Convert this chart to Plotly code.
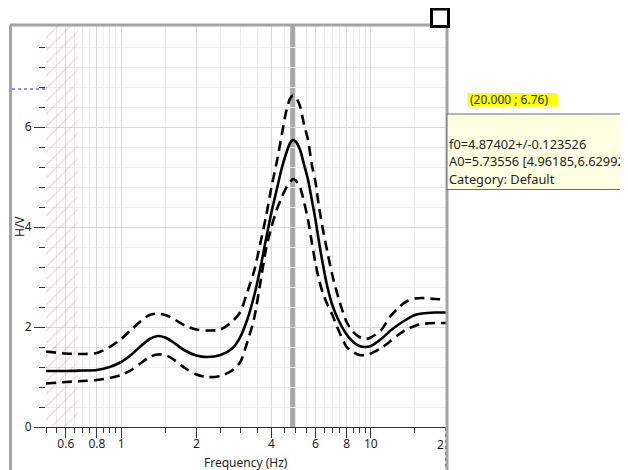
import plotly.graph_objects as go

# ---------------- data ----------------
freq = [0.5, 0.6, 0.7, 0.8, 0.9, 1.0, 1.1, 1.2, 1.3, 1.4, 1.5, 1.6, 1.8, 2.0, 2.2, 2.5, 2.8,
        3.0, 3.2, 3.4, 3.6, 3.8, 4.0, 4.2, 4.4, 4.6, 4.75, 4.87, 5.0, 5.2, 5.4, 5.6, 5.8, 6.0,
        6.2, 6.4, 6.7, 7.0, 7.4, 8.0, 8.5, 9.0, 9.5, 10, 11, 12, 13, 14, 15, 16, 18, 20]
hv_mean = [1.12, 1.12, 1.13, 1.14, 1.20, 1.30, 1.45, 1.62, 1.76, 1.82, 1.79, 1.71, 1.53, 1.43, 1.40, 1.44, 1.58,
           1.80, 2.15, 2.60, 3.15, 3.75, 4.30, 4.75, 5.18, 5.50, 5.68, 5.74, 5.71, 5.55, 5.25, 4.95, 4.55, 4.15,
           3.70, 3.30, 2.80, 2.45, 2.15, 1.85, 1.70, 1.62, 1.60, 1.62, 1.76, 1.93, 2.06, 2.16, 2.24, 2.27, 2.29, 2.29]
hv_upper = [1.51, 1.47, 1.46, 1.48, 1.60, 1.76, 1.95, 2.12, 2.24, 2.27, 2.24, 2.18, 2.03, 1.95, 1.93, 1.95, 2.12,
            2.30, 2.70, 3.10, 3.65, 4.20, 4.80, 5.30, 5.85, 6.35, 6.57, 6.63, 6.60, 6.42, 6.05, 5.75, 5.25, 4.90,
            4.40, 4.00, 3.50, 3.05, 2.60, 2.10, 1.90, 1.80, 1.76, 1.79, 1.94, 2.22, 2.40, 2.52, 2.57, 2.58, 2.56, 2.55]
hv_lower = [0.87, 0.90, 0.92, 0.94, 0.98, 1.04, 1.14, 1.28, 1.40, 1.45, 1.44, 1.37, 1.18, 1.05, 1.00, 1.02, 1.14,
            1.30, 1.70, 2.15, 2.85, 3.55, 4.00, 4.35, 4.60, 4.80, 4.90, 4.96, 4.93, 4.80, 4.50, 4.15, 3.70, 3.27,
            2.95, 2.70, 2.45, 2.25, 1.95, 1.60, 1.50, 1.44, 1.44, 1.47, 1.58, 1.72, 1.86, 1.96, 2.02, 2.06, 2.08, 2.08]

f0 = 4.87402
f0_std = 0.123526
a0 = 5.73556
a0_low = 4.96185
a0_high = 6.62992
category = "Default"
hatch_f_min = 0.5
hatch_f_max = 0.67
cursor_f = 20.000
cursor_a = 6.76

x_range = [0.5, 20]
y_range = [0, 8.04]
x_tick_vals = [0.6, 0.8, 1, 2, 4, 6, 8, 10, 20]
x_tick_text = ["0.6", "0.8", "1", "2", "4", "6", "8", "10", ""]
x_minor_vals = [0.5, 0.55, 0.6, 0.65, 0.7, 0.75, 0.8, 0.85, 0.9, 0.95, 1.0,
                1.5, 2.0, 2.5, 3.0, 3.5, 4.0, 4.5, 5.0, 5.5, 6.0, 6.5, 7.0, 7.5, 8.0, 8.5, 9.0, 9.5, 10, 15, 20]
y_tick_vals = [0, 2, 4, 6]
y_minor_vals = [0.4, 0.8, 1.2, 1.6, 2.0, 2.4, 2.8, 3.2, 3.6, 4.0, 4.4, 4.8, 5.2, 5.6, 6.0,
                6.4, 6.8, 7.2, 7.6]

# ---------------- layout helpers ----------------
# The page body has an 8 px margin, so the figure is drawn 8 px smaller and
# all page-pixel positions below are converted to paper coordinates.
BODY = 8
PAGE_W, PAGE_H = 628, 470
L_PAGE, T_PAGE, W, H = 46, 25, 400, 402
FIG_W, FIG_H = PAGE_W - BODY, PAGE_H - BODY
L, T = L_PAGE - BODY, T_PAGE - BODY


def px(x):
    return (x - L_PAGE) / W


def py(y):
    return (T_PAGE + H - y) / H


FONT = "Noto Sans"
TXT = "#1e1e1e"

fig = go.Figure()

# hatched (invalid) frequency region
fig.add_trace(go.Scatter(
    x=[hatch_f_min, hatch_f_max, hatch_f_max, hatch_f_min, hatch_f_min],
    y=[y_range[0], y_range[0], y_range[1], y_range[1], y_range[0]],
    mode="lines", fill="toself", line=dict(width=0),
    fillcolor="rgba(0,0,0,0)",
    fillpattern=dict(shape="/", fgcolor="#e296ae", bgcolor="rgba(255,255,255,0)",
                     size=9, solidity=0.13),
    hoverinfo="skip", showlegend=False))

dash = "10px,6px"
fig.add_trace(go.Scatter(x=freq, y=hv_upper, mode="lines", line=dict(color="black", width=2.6, dash=dash,
                                                                      shape="spline", smoothing=0.8),
                         showlegend=False))
fig.add_trace(go.Scatter(x=freq, y=hv_lower, mode="lines", line=dict(color="black", width=2.6, dash=dash,
                                                                      shape="spline", smoothing=0.8),
                         showlegend=False))
fig.add_trace(go.Scatter(x=freq, y=hv_mean, mode="lines", line=dict(color="black", width=2.6,
                                                                     shape="spline", smoothing=0.8),
                         showlegend=False))

shapes = []
# f0 +/- std band
shapes.append(dict(type="rect", xref="x", yref="paper", x0=f0 - f0_std, x1=f0 + f0_std, y0=0, y1=1,
                   fillcolor="#a9a9a9", line=dict(width=0), layer="between"))
# widget frame
frame = dict(color="#a3a3a3", width=3)
shapes.append(dict(type="line", xref="paper", yref="paper", x0=px(10), x1=px(447), y0=py(25), y1=py(25),
                   line=frame, layer="above"))
shapes.append(dict(type="line", xref="paper", yref="paper", x0=px(10.5), x1=px(10.5), y0=py(25), y1=py(472),
                   line=frame, layer="above"))
shapes.append(dict(type="line", xref="paper", yref="paper", x0=px(447), x1=px(447), y0=py(25), y1=py(472),
                   line=frame, layer="above"))
# cursor cross-hair (blue dotted)
shapes.append(dict(type="line", xref="paper", yref="y", x0=px(12), x1=0, y0=cursor_a, y1=cursor_a,
                   line=dict(color="#2020ff", width=1, dash="dot"), layer="above"))
shapes.append(dict(type="line", xref="x", yref="paper", x0=cursor_f, x1=cursor_f, y0=py(428), y1=py(472),
                   line=dict(color="#2020ff", width=1, dash="dot"), layer="above"))
# resize handle square
shapes.append(dict(type="rect", xref="paper", yref="paper", x0=px(431.5), x1=px(448.5), y0=py(26.5), y1=py(9),
                   fillcolor="white", line=dict(color="black", width=3), layer="above"))
# yellow cursor label background
shapes.append(dict(type="rect", xref="paper", yref="paper", x0=px(467.5), x1=px(557), y0=py(106.5), y1=py(93),
                   fillcolor="#ffff00", line=dict(width=0), layer="above"))
# tooltip box
shapes.append(dict(type="rect", xref="paper", yref="paper", x0=px(447), x1=px(627), y0=py(189.5), y1=py(114),
                   fillcolor="#ffffe1", line=dict(color="#6e6e6e", width=1), layer="above"))

annotations = []


def add_text(text, x, y, xanchor="left", size=12, yanchor="middle", textangle=0):
    annotations.append(dict(text=text, xref="paper", yref="paper", x=px(x), y=py(y), xanchor=xanchor,
                            yanchor=yanchor, showarrow=False, textangle=textangle,
                            font=dict(family=FONT, size=size, color=TXT)))


add_text(f"({cursor_f:.3f} ; {cursor_a:.2f})", 468.5, 99.5)
add_text(f"f0={f0}+/-{f0_std}", 446.5, 143.5, size=12.8)
add_text(f"A0={a0} [{a0_low},{a0_high}]", 446.5, 161, size=12.8)
add_text(f"Category: {category}", 446.5, 178.5, size=12.8)
add_text("Frequency (Hz)", 246, 462.5, xanchor="center")
add_text("H/V", 19, 227, xanchor="center", textangle=-90)
add_text("2", 446, 444, xanchor="right")

fig.update_layout(
    width=FIG_W, height=FIG_H,
    margin=dict(l=L, r=FIG_W - L - W, t=T, b=FIG_H - T - H),
    paper_bgcolor="white", plot_bgcolor="white",
    font=dict(family=FONT, size=12, color=TXT),
    shapes=shapes, annotations=annotations, showlegend=False,
)
fig.update_xaxes(
    type="log", range=[-0.30103, 1.30103],
    tickmode="array", tickvals=x_tick_vals, ticktext=x_tick_text,
    ticks="outside", ticklen=10, tickwidth=1, tickcolor="#333333",
    ticklabelstandoff=-4,
    showgrid=True, gridcolor="#dadada", gridwidth=1,
    showline=True, linecolor="#333333", linewidth=1, zeroline=False,
    tickfont=dict(family=FONT, size=12, color=TXT),
    minor=dict(tickmode="array", tickvals=x_minor_vals, ticks="outside", ticklen=5, tickcolor="#333333",
               showgrid=True, gridcolor="#ebebeb", gridwidth=1),
)
fig.update_yaxes(
    range=y_range,
    tickmode="array", tickvals=y_tick_vals,
    ticks="outside", ticklen=11, tickwidth=1, tickcolor="#333333",
    showgrid=True, gridcolor="#dadada", gridwidth=1,
    showline=False, zeroline=False,
    tickfont=dict(family=FONT, size=12, color=TXT),
    minor=dict(tickmode="array", tickvals=y_minor_vals, ticks="outside", ticklen=6, tickcolor="#333333",
               showgrid=True, gridcolor="#ebebeb", gridwidth=1),
)

fig.write_html("out.html")
